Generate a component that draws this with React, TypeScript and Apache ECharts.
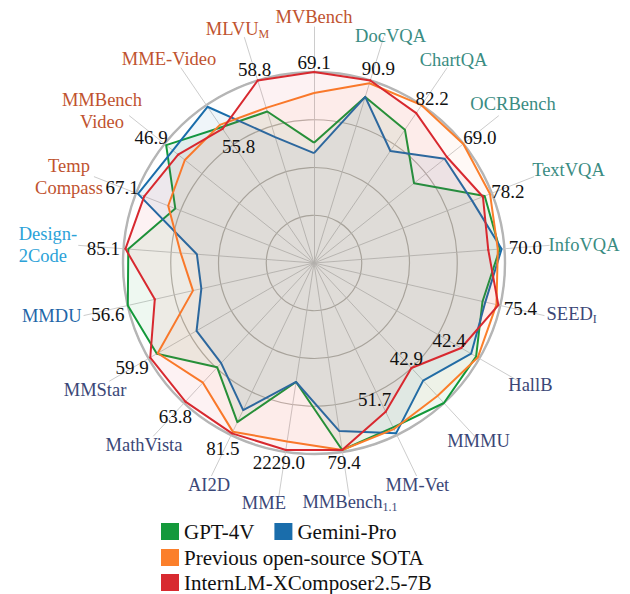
import React, { useEffect, useRef } from 'react';
import * as echarts from 'echarts';

// Categories listed clockwise, starting at the top ("_" marks a subscript, "\n" a line break)
const categories = [
  'MVBench', 'DocVQA', 'ChartQA', 'OCRBench', 'TextVQA', 'InfoVQA', 'SEED_I', 'HallB', 'MMMU', 'MM-Vet',
  'MMBench_1.1', 'MME', 'AI2D', 'MathVista', 'MMStar', 'MMDU', 'Design-\n2Code', 'Temp\nCompass',
  'MMBench\nVideo', 'MME-Video', 'MLVU_M',
];
const categoryGroup = [
  'video', 'doc', 'doc', 'doc', 'doc', 'doc', 'general', 'general', 'general', 'general',
  'general', 'general', 'general', 'general', 'general', 'mmdu', 'design', 'video',
  'video', 'video', 'video',
];
// InternLM-XComposer2.5-7B scores printed on the chart
const internLMScores = [
  '69.1', '90.9', '82.2', '69.0', '78.2', '70.0', '75.4', '42.4', '42.9', '51.7',
  '79.4', '2229.0', '81.5', '63.8', '59.9', '56.6', '85.1', '67.1', '46.9', '55.8', '58.8',
];
// Normalised radial position of every model on each axis (1 = outer ring)
const gpt4v = [0.63, 0.91, 0.845, 0.67, 0.96, 0.975, 0.905, 0.98, 1.0, 0.955, 0.99, 0.63, 0.925, 0.745, 0.95, 1.0, 0.975, 0.78, 0.99, 0.86, 0.83];
const geminiPro = [0.575, 0.91, 0.71, 0.875, 0.89, 0.985, 0.92, 0.95, 0.84, 0.99, 0.89, 0.63, 0.855, 0.715, 0.71, 0.605, 0.615, 0.99, 0.945, 0.99, 0.69];
const prevSota = [0.89, 0.985, 1.0, 1.0, 0.99, 0.965, 0.98, 0.99, 0.95, 0.965, 0.99, 0.945, 0.98, 0.855, 0.945, 0.65, 0.70, 0.82, 0.865, 0.875, 0.85];
const internLM = [1.0, 1.0, 0.95, 0.89, 0.95, 0.915, 0.99, 0.89, 0.75, 0.865, 0.99, 0.99, 0.99, 0.99, 0.99, 0.855, 0.99, 0.955, 0.91, 0.85, 1.0];

const seriesNames = ['GPT-4V', 'Gemini-Pro', 'Previous open-source SOTA', 'InternLM-XComposer2.5-7B'];
const seriesValues = [gpt4v, geminiPro, prevSota, internLM];

// ---- styling / layout (not data) ----
const FONT = 'Liberation Serif';
const seriesColors = ['#14993b', '#1a6dab', '#fb7f2b', '#d82a30'];
const areaOpacity = [0.07, 0.07, 0.045, 0.06];
const groupColors: Record<string, string> = {
  video: '#bf532f', doc: '#3a8c82', general: '#3b4777', mmdu: '#1f66a8', design: '#2ba2d8',
};
const nameOffsets = [
  [0, -10], [7, -1.5], [6.6, -8.5], [14.5, -11.4], [34.8, -6.3], [34.7, 0], [27.6, -1.5], [12, 3.5],
  [4, 4.5], [1, 9], [0.8, 6], [-15, 6.5], [-2.6, 9], [-9.5, 9], [-14.6, 8.5], [-32.2, 0.5],
  [-30.7, -0.4], [-25.3, 0], [-27.5, -5], [-12, -9], [-7, -8.5],
];
const nameLeftAligned = [16];
const valueOffsets = [
  [0, -10], [8, -12], [16, -15], [33, -20], [25, -5], [37, -2], [22, 3], [-12, -7], [-5, -10],
  [-11, -12], [2, 13], [-7, 13], [-9, 15], [-10, 15], [-18, 10], [-47, 15], [-22, 0], [-22, -9],
  [-27, -17], [16, 18], [-3, -11],
];

const N = categories.length;
// ECharts lays radar indicators out counter-clockwise; map to our clockwise order
const ecOrder = categories.map((_, k) => (k === 0 ? 0 : N - k));
const toEc = (arr: any[]) => ecOrder.map((cw) => arr[cw]);

function pad(dx: number, dy: number) {
  return {
    pt: Math.max(0, 2 * dy), pb: Math.max(0, -2 * dy),
    pl: Math.max(0, 2 * dx), pr: Math.max(0, -2 * dx),
  };
}

function buildNameRich() {
  const rich: Record<string, any> = {};
  categories.forEach((cat, i) => {
    const { pt, pb, pl, pr } = pad(nameOffsets[i][0], nameOffsets[i][1]);
    const color = groupColors[categoryGroup[i]];
    const lines = cat.split('\n');
    const multi = lines.length > 1;
    const left = nameLeftAligned.indexOf(i) >= 0;
    lines.forEach((line, j) => {
      const [, sub] = line.split('_');
      const m: any = { color, fontFamily: FONT, fontSize: 18.5, padding: [pt, sub ? 0 : pr, pb, pl] };
      if (multi) m.lineHeight = 22;
      if (left) m.align = 'left';
      rich[`n${i}l${j}m`] = m;
      if (sub) {
        rich[`n${i}l${j}s`] = { color, fontFamily: FONT, fontSize: 12, padding: [pt + 10, pr, pb, 0] };
      }
    });
  });
  return rich;
}

function nameFormatter(value: string) {
  const i = categories.indexOf(value);
  return value
    .split('\n')
    .map((line, j) => {
      const [m, s] = line.split('_');
      return `{n${i}l${j}m|${m}}` + (s ? `{n${i}l${j}s|${s}}` : '');
    })
    .join('\n');
}

function buildValueRich() {
  const rich: Record<string, any> = {};
  categories.forEach((_, i) => {
    const { pt, pb, pl, pr } = pad(valueOffsets[i][0], valueOffsets[i][1]);
    rich[`v${i}`] = { color: '#111', fontFamily: FONT, fontSize: 19, padding: [pt, pr, pb, pl] };
  });
  return rich;
}

const fontCss = `#root svg text, #root svg tspan { font-family: "Liberation Serif", "Times New Roman", serif !important; }`;

export default function App() {
  const ref = useRef<HTMLDivElement>(null);
  useEffect(() => {
    document.body.style.margin = '0';
    const chart = echarts.init(ref.current!, null, { renderer: 'svg' });
    const indicators = ecOrder.map((cw) => ({ name: categories[cw], min: 0, max: 1 }));
    const center = [314, 263];
    const legendBase = {
      icon: 'rect', itemWidth: 18, itemHeight: 17, itemGap: 20, padding: 0, selectedMode: false,
      textStyle: { fontFamily: FONT, fontSize: 21, color: '#111' },
    };
    chart.setOption({
      animation: false,
      backgroundColor: '#fff',
      textStyle: { fontFamily: FONT },
      legend: [
        { ...legendBase, data: [seriesNames[0], seriesNames[1]], left: 161, top: 521 },
        { ...legendBase, data: [seriesNames[2]], left: 161, top: 547 },
        { ...legendBase, data: [seriesNames[3]], left: 161, top: 572 },
      ],
      radar: [
        {
          center, radius: 191, startAngle: 90, shape: 'circle', splitNumber: 4, indicator: indicators,
          axisName: { show: false }, axisLine: { show: false }, axisTick: { show: false }, axisLabel: { show: false },
          splitLine: { lineStyle: { color: '#b9b6b1', width: 1.2 } }, splitArea: { show: false },
        },
        {
          center, radius: 191, startAngle: 90, shape: 'circle', splitNumber: 1, indicator: indicators,
          axisName: { show: false }, axisLine: { show: false }, axisTick: { show: false }, axisLabel: { show: false },
          splitLine: { lineStyle: { color: '#b5b5b5', width: 2.4 } }, splitArea: { show: false },
        },
        {
          center, radius: 236, startAngle: 90, shape: 'circle', splitNumber: 1, indicator: indicators,
          nameGap: 0,
          axisName: {
            show: true, formatter: nameFormatter, rich: buildNameRich(), align: 'center', verticalAlign: 'middle',
            fontFamily: FONT, fontSize: 18.5,
          },
          axisLine: { show: true, lineStyle: { color: '#c6c6c6', width: 0.9 } },
          axisTick: { show: false }, axisLabel: { show: false },
          splitLine: { show: false }, splitArea: { show: false },
        },
      ],
      series: [
        {
          type: 'radar', radarIndex: 0,
          data: seriesNames.map((name, s) => {
            const isMain = s === 3;
            return {
              name,
              value: toEc(seriesValues[s]),
              symbol: isMain ? 'circle' : 'none',
              symbolSize: isMain ? 2 : 0,
              itemStyle: { color: seriesColors[s] },
              lineStyle: { color: seriesColors[s], width: 2 },
              areaStyle: { color: seriesColors[s], opacity: areaOpacity[s] },
              label: isMain
                ? {
                    show: true, position: 'inside', align: 'center', verticalAlign: 'middle',
                    fontFamily: FONT, fontSize: 19,
                    formatter: (p: any) => {
                      const cw = ecOrder[p.dimensionIndex];
                      return `{v${cw}|${internLMScores[cw]}}`;
                    },
                    rich: buildValueRich(),
                  }
                : { show: false },
            };
          }),
        },
      ],
    });
    return () => chart.dispose();
  }, []);
  return (
    <>
      <style>{fontCss}</style>
      <div ref={ref} style={{ position: 'fixed', left: 0, top: 0, width: 630, height: 594 }} />
    </>
  );
}
